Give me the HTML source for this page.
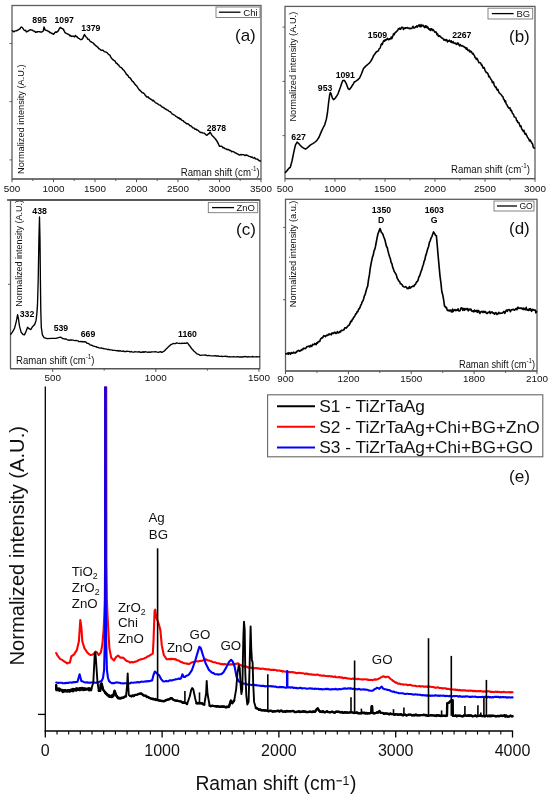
<!DOCTYPE html>
<html><head><meta charset="utf-8"><title>Raman spectra</title>
<style>html,body{margin:0;padding:0;background:#fff;}body{width:550px;height:800px;overflow:hidden;font-family:"Liberation Sans",sans-serif;}svg{display:block;will-change:transform;}</style>
</head><body>
<svg width="550" height="800" viewBox="0 0 550 800" font-family="Liberation Sans, sans-serif">
<defs><clipPath id="clipE"><rect x="40" y="386.4" width="500" height="350"/></clipPath></defs>
<rect x="12.0" y="5.5" width="249.0" height="173.5" fill="none" stroke="#5e5e5e" stroke-width="1.3"/>
<line x1="12.0" y1="179.0" x2="261.0" y2="179.0" stroke="#555" stroke-width="1.20" />
<line x1="12.0" y1="179.0" x2="12.0" y2="182.2" stroke="#555" stroke-width="1.00" />
<line x1="53.5" y1="179.0" x2="53.5" y2="182.2" stroke="#555" stroke-width="1.00" />
<line x1="95.0" y1="179.0" x2="95.0" y2="182.2" stroke="#555" stroke-width="1.00" />
<line x1="136.5" y1="179.0" x2="136.5" y2="182.2" stroke="#555" stroke-width="1.00" />
<line x1="178.0" y1="179.0" x2="178.0" y2="182.2" stroke="#555" stroke-width="1.00" />
<line x1="219.5" y1="179.0" x2="219.5" y2="182.2" stroke="#555" stroke-width="1.00" />
<line x1="261.0" y1="179.0" x2="261.0" y2="182.2" stroke="#555" stroke-width="1.00" />
<line x1="32.8" y1="179.0" x2="32.8" y2="181.0" stroke="#555" stroke-width="0.90" />
<line x1="74.2" y1="179.0" x2="74.2" y2="181.0" stroke="#555" stroke-width="0.90" />
<line x1="115.8" y1="179.0" x2="115.8" y2="181.0" stroke="#555" stroke-width="0.90" />
<line x1="157.2" y1="179.0" x2="157.2" y2="181.0" stroke="#555" stroke-width="0.90" />
<line x1="198.8" y1="179.0" x2="198.8" y2="181.0" stroke="#555" stroke-width="0.90" />
<line x1="240.2" y1="179.0" x2="240.2" y2="181.0" stroke="#555" stroke-width="0.90" />
<text x="12.0" y="192.4" font-size="9.90" text-anchor="middle" font-weight="normal" fill="#111" >500</text>
<text x="53.5" y="192.4" font-size="9.90" text-anchor="middle" font-weight="normal" fill="#111" >1000</text>
<text x="95.0" y="192.4" font-size="9.90" text-anchor="middle" font-weight="normal" fill="#111" >1500</text>
<text x="136.5" y="192.4" font-size="9.90" text-anchor="middle" font-weight="normal" fill="#111" >2000</text>
<text x="178.0" y="192.4" font-size="9.90" text-anchor="middle" font-weight="normal" fill="#111" >2500</text>
<text x="219.5" y="192.4" font-size="9.90" text-anchor="middle" font-weight="normal" fill="#111" >3000</text>
<text x="261.0" y="192.4" font-size="9.90" text-anchor="middle" font-weight="normal" fill="#111" >3500</text>
<line x1="9.5" y1="43.5" x2="12.0" y2="43.5" stroke="#555" stroke-width="0.90" />
<line x1="9.5" y1="101.6" x2="12.0" y2="101.6" stroke="#555" stroke-width="0.90" />
<line x1="9.5" y1="159.9" x2="12.0" y2="159.9" stroke="#555" stroke-width="0.90" />
<text x="0" y="0" font-size="9.20" text-anchor="middle" fill="#111" transform="translate(23.6,119.2) rotate(-90)" textLength="109.4" lengthAdjust="spacingAndGlyphs">Normalized intensity (A.U.)</text>
<text x="235.0" y="40.8" font-size="17.00" text-anchor="start" font-weight="normal" fill="#111" >(a)</text>
<rect x="216.0" y="7.0" width="44.0" height="10.5" fill="#fff" stroke="#777" stroke-width="0.9"/>
<line x1="219.0" y1="12.2" x2="240.5" y2="12.2" stroke="#000" stroke-width="1.30" />
<text x="243.2" y="15.7" font-size="9.70" text-anchor="start" font-weight="normal" fill="#111" >Chi</text>
<text x="180.8" y="176.0" font-size="10" fill="#111" textLength="78.9" lengthAdjust="spacingAndGlyphs">Raman shift (cm<tspan font-size="6.5" dy="-5">-1</tspan><tspan dy="5">)</tspan></text>
<polyline points="12.5,30.7 13.3,31.5 14.1,31.7 14.9,31.0 15.8,30.9 16.6,30.8 17.4,30.2 18.2,29.9 19.0,29.4 19.9,28.9 20.7,27.5 21.5,27.1 22.7,28.0 23.9,30.0 24.7,30.5 25.6,30.3 26.4,31.9 27.2,31.6 28.0,31.0 28.8,30.7 29.6,30.1 30.5,29.7 31.3,30.1 32.1,30.0 32.9,30.6 33.8,31.1 34.6,31.3 35.4,32.2 36.2,31.9 37.0,32.2 37.8,31.6 38.6,31.6 39.4,31.6 40.2,32.0 41.1,32.0 41.9,32.0 43.3,31.0 44.0,27.0 45.2,30.1 46.0,30.4 46.8,30.5 47.7,30.9 48.5,31.5 49.3,31.7 50.1,32.8 50.9,32.7 51.8,33.5 52.6,33.4 53.4,34.3 54.2,33.7 55.0,32.3 55.9,32.0 56.7,32.3 57.5,31.4 58.3,30.9 59.1,29.2 59.9,27.9 60.7,27.4 61.5,28.4 62.4,28.6 63.2,29.2 64.0,30.5 64.8,32.3 65.7,33.1 66.5,33.4 67.3,33.9 68.1,34.2 69.0,34.6 69.8,35.8 70.6,35.5 71.4,36.4 72.4,36.3 73.5,36.2 74.5,36.9 75.5,35.4 76.3,36.7 77.1,36.8 77.9,37.9 78.7,38.4 79.5,38.6 80.3,39.6 81.2,39.6 82.0,39.3 82.8,38.3 83.7,35.9 84.5,34.5 85.3,36.1 86.1,37.0 86.9,37.5 87.7,39.3 88.6,39.2 89.4,40.1 90.2,41.5 91.1,41.7 92.0,42.4 92.9,42.8 93.7,43.5 94.6,44.8 95.4,45.1 96.3,46.2 97.1,46.7 98.0,47.4 98.8,48.7 99.7,48.9 100.5,49.7 101.4,50.4 102.3,50.1 103.3,50.4 104.2,51.6 105.1,51.9 106.0,52.0 107.0,52.6 108.0,53.8 108.9,54.7 109.9,55.1 110.8,57.2 111.8,58.4 112.7,59.4 113.5,60.1 114.4,60.6 115.2,61.3 116.1,63.2 117.0,63.3 117.8,64.6 118.7,65.0 119.5,66.5 120.3,67.1 121.2,67.6 122.1,68.3 122.9,69.7 123.8,70.1 124.6,71.3 125.5,72.7 126.3,74.1 127.2,74.9 128.0,75.6 128.8,77.3 129.7,77.6 130.6,78.5 131.4,79.8 132.2,81.1 133.1,81.7 133.9,82.8 134.8,84.0 135.6,85.2 136.5,85.7 137.3,86.9 138.2,88.4 139.1,89.6 140.1,90.4 141.1,91.5 142.0,92.5 142.8,92.7 143.7,93.3 144.6,94.0 145.4,95.7 146.2,96.2 147.1,97.2 148.0,96.8 148.9,98.0 149.8,98.4 150.7,99.3 151.6,99.4 152.5,100.8 153.4,100.3 154.3,101.4 155.1,102.2 156.0,102.9 156.8,103.3 157.7,103.8 158.5,104.5 159.4,105.1 160.2,105.1 161.1,106.0 161.9,106.8 162.8,107.3 163.6,107.4 164.5,108.4 165.3,109.0 166.2,109.3 167.0,109.9 167.9,110.2 168.7,111.0 169.6,111.6 170.4,111.7 171.3,112.9 172.1,113.9 173.0,114.4 173.8,114.9 174.7,115.1 175.5,116.1 176.4,116.6 177.2,117.0 178.1,118.0 178.9,117.7 179.8,119.0 180.6,118.8 181.5,120.0 182.3,120.4 183.2,120.7 184.0,121.8 184.8,122.2 185.7,122.9 186.5,123.8 187.4,123.6 188.2,123.9 189.1,124.8 189.9,125.8 190.8,125.8 191.6,126.3 192.5,127.7 193.3,127.9 194.2,128.2 195.0,129.2 195.9,129.1 196.7,129.9 197.6,129.9 198.4,130.7 199.3,131.6 200.1,132.2 201.0,132.5 201.8,132.4 202.7,133.0 203.5,133.1 204.4,133.3 205.2,134.1 206.1,134.9 206.9,135.3 208.2,134.0 209.1,133.5 210.0,132.1 211.0,133.6 212.0,135.5 212.9,136.3 213.9,137.2 214.9,138.4 215.8,139.5 216.8,141.0 217.7,142.4 218.7,144.6 219.6,146.3 220.4,146.2 221.3,146.2 222.1,146.6 223.0,147.9 223.8,147.5 224.7,148.6 225.5,148.8 226.4,148.9 227.2,149.8 228.1,149.3 228.9,149.8 229.8,150.6 230.6,150.4 231.5,151.7 232.3,151.4 233.2,151.6 234.0,151.9 234.9,152.8 235.7,153.0 236.6,153.5 237.4,153.9 238.3,154.4 239.1,154.9 240.0,154.9 240.9,154.5 241.8,154.9 242.6,154.6 243.5,154.6 244.4,155.2 245.2,155.5 246.1,155.0 247.0,155.2 247.8,155.6 248.7,156.3 249.5,156.4 250.4,156.7 251.2,157.2 252.1,157.0 252.9,157.8 253.8,158.2 254.6,157.5 255.4,158.9 256.3,159.1 257.1,158.9 258.0,159.7 258.8,160.3 259.7,161.0 260.5,161.0" fill="none" stroke="#000" stroke-width="1.45" stroke-linejoin="round" stroke-linecap="round" />
<text x="39.6" y="22.8" font-size="8.70" text-anchor="middle" font-weight="bold" fill="#000" >895</text>
<text x="64.2" y="22.8" font-size="8.70" text-anchor="middle" font-weight="bold" fill="#000" >1097</text>
<text x="90.8" y="30.9" font-size="8.70" text-anchor="middle" font-weight="bold" fill="#000" >1379</text>
<text x="216.4" y="130.5" font-size="8.70" text-anchor="middle" font-weight="bold" fill="#000" >2878</text>
<rect x="285.0" y="6.4" width="250.0" height="172.2" fill="none" stroke="#5e5e5e" stroke-width="1.3"/>
<line x1="285.0" y1="178.6" x2="535.0" y2="178.6" stroke="#555" stroke-width="1.20" />
<line x1="285.0" y1="178.6" x2="285.0" y2="181.8" stroke="#555" stroke-width="1.00" />
<line x1="335.0" y1="178.6" x2="335.0" y2="181.8" stroke="#555" stroke-width="1.00" />
<line x1="385.0" y1="178.6" x2="385.0" y2="181.8" stroke="#555" stroke-width="1.00" />
<line x1="435.0" y1="178.6" x2="435.0" y2="181.8" stroke="#555" stroke-width="1.00" />
<line x1="485.0" y1="178.6" x2="485.0" y2="181.8" stroke="#555" stroke-width="1.00" />
<line x1="535.0" y1="178.6" x2="535.0" y2="181.8" stroke="#555" stroke-width="1.00" />
<line x1="310.0" y1="178.6" x2="310.0" y2="180.6" stroke="#555" stroke-width="0.90" />
<line x1="360.0" y1="178.6" x2="360.0" y2="180.6" stroke="#555" stroke-width="0.90" />
<line x1="410.0" y1="178.6" x2="410.0" y2="180.6" stroke="#555" stroke-width="0.90" />
<line x1="460.0" y1="178.6" x2="460.0" y2="180.6" stroke="#555" stroke-width="0.90" />
<line x1="510.0" y1="178.6" x2="510.0" y2="180.6" stroke="#555" stroke-width="0.90" />
<text x="285.0" y="192.2" font-size="9.90" text-anchor="middle" font-weight="normal" fill="#111" >500</text>
<text x="335.0" y="192.2" font-size="9.90" text-anchor="middle" font-weight="normal" fill="#111" >1000</text>
<text x="385.0" y="192.2" font-size="9.90" text-anchor="middle" font-weight="normal" fill="#111" >1500</text>
<text x="435.0" y="192.2" font-size="9.90" text-anchor="middle" font-weight="normal" fill="#111" >2000</text>
<text x="485.0" y="192.2" font-size="9.90" text-anchor="middle" font-weight="normal" fill="#111" >2500</text>
<text x="535.0" y="192.2" font-size="9.90" text-anchor="middle" font-weight="normal" fill="#111" >3000</text>
<line x1="282.5" y1="27.1" x2="285.0" y2="27.1" stroke="#555" stroke-width="0.90" />
<line x1="282.5" y1="81.4" x2="285.0" y2="81.4" stroke="#555" stroke-width="0.90" />
<line x1="282.5" y1="135.6" x2="285.0" y2="135.6" stroke="#555" stroke-width="0.90" />
<text x="0" y="0" font-size="9.20" text-anchor="middle" fill="#111" transform="translate(295.8,66.7) rotate(-90)" textLength="109.8" lengthAdjust="spacingAndGlyphs">Normalized intensity (A.U.)</text>
<text x="509.0" y="41.6" font-size="17.00" text-anchor="start" font-weight="normal" fill="#111" >(b)</text>
<rect x="488.0" y="8.2" width="44.7" height="10.8" fill="#fff" stroke="#777" stroke-width="0.9"/>
<line x1="491.8" y1="13.6" x2="513.6" y2="13.6" stroke="#000" stroke-width="1.30" />
<text x="516.4" y="17.0" font-size="9.40" text-anchor="start" font-weight="normal" fill="#111" >BG</text>
<text x="451.0" y="172.7" font-size="10" fill="#111" textLength="79.0" lengthAdjust="spacingAndGlyphs">Raman shift (cm<tspan font-size="6.5" dy="-5">-1</tspan><tspan dy="5">)</tspan></text>
<polyline points="285.5,172.4 286.8,171.0 288.1,169.2 289.2,168.0 290.3,167.3 292.0,161.0 293.7,152.6 295.4,145.1 297.1,142.1 298.8,143.6 299.9,144.9 301.0,146.1 302.1,147.1 303.3,147.9 304.4,148.5 305.5,149.0 306.6,148.3 307.8,147.4 308.9,146.4 310.0,145.4 311.4,144.4 312.8,143.6 313.9,142.9 315.1,142.0 316.2,141.1 317.6,139.4 319.0,137.3 320.4,133.9 321.9,130.4 323.3,127.5 324.7,124.8 326.4,119.1 327.5,112.5 328.6,102.6 329.7,94.6 330.3,92.6 331.0,93.5 332.3,97.8 333.5,99.7 334.5,98.9 335.5,97.8 336.8,95.9 338.0,93.8 339.2,90.6 340.5,87.1 341.6,83.5 342.8,80.6 344.4,80.4 346.3,83.7 348.2,88.8 349.5,89.5 351.4,87.1 352.4,85.2 353.5,83.7 354.5,81.7 355.6,81.4 356.6,80.7 357.7,79.9 359.6,78.0 361.5,73.7 362.5,71.1 363.5,68.5 364.8,67.1 366.0,65.8 367.2,65.0 368.5,63.8 369.8,62.6 371.1,60.7 372.4,58.5 373.6,55.6 374.9,54.0 376.2,52.0 378.0,51.0 378.6,50.1 379.2,48.7 379.8,48.3 380.4,47.3 381.0,44.9 381.7,43.6 382.4,44.4 383.1,41.8 383.8,40.5 384.5,41.2 385.1,39.8 385.7,40.5 386.3,39.4 386.9,39.7 387.5,38.3 388.1,39.3 388.8,39.8 389.4,38.7 390.0,39.1 390.6,38.8 391.2,37.1 391.8,38.6 392.4,37.2 393.0,35.4 393.6,33.7 394.3,34.8 394.9,32.8 395.5,32.3 396.2,32.0 396.9,30.9 397.6,30.7 398.3,28.7 399.0,29.0 399.6,28.1 400.3,29.3 400.9,29.1 401.5,27.2 402.2,27.3 402.8,27.5 403.5,29.4 404.1,28.0 404.7,28.5 405.4,27.7 406.0,28.2 406.6,27.8 407.3,27.6 407.9,28.1 408.5,28.0 409.2,28.7 409.8,28.1 410.4,28.6 411.1,28.3 411.7,28.5 412.3,27.6 413.0,26.3 413.6,27.9 414.2,28.0 414.8,27.8 415.5,26.8 416.1,27.0 416.7,25.7 417.3,27.1 417.9,26.3 418.5,25.5 419.1,24.8 419.8,26.6 420.4,26.8 421.0,24.5 421.6,26.4 422.3,25.7 422.9,25.2 423.5,25.7 424.2,27.1 424.8,27.6 425.5,25.7 426.1,27.3 426.7,26.1 427.4,28.0 428.0,27.2 428.6,28.9 429.2,29.6 429.9,28.7 430.5,30.4 431.1,29.0 431.7,28.8 432.4,30.5 433.0,29.5 433.6,30.2 434.3,31.3 435.0,32.4 435.6,31.8 436.3,32.1 437.0,34.7 437.6,33.9 438.3,36.1 439.0,36.5 439.6,35.7 440.2,36.3 440.8,36.9 441.4,37.7 442.1,38.0 442.7,38.4 443.3,39.0 443.9,40.2 444.5,39.6 445.1,39.6 445.7,40.6 446.3,39.6 446.9,40.0 447.5,41.9 448.1,41.0 448.8,41.2 449.4,40.1 450.0,41.3 450.6,42.0 451.2,40.8 451.8,42.5 452.5,42.7 453.1,41.5 453.8,43.1 454.4,43.0 455.1,43.7 455.7,43.1 456.4,44.2 457.0,44.5 457.7,42.9 458.3,43.2 459.0,44.9 459.6,46.0 460.2,44.5 460.8,45.3 461.4,46.0 462.1,45.6 462.7,46.0 463.3,46.2 463.9,46.7 464.5,47.5 465.1,47.3 465.7,47.9 466.3,49.3 466.9,47.9 467.5,49.7 468.1,50.6 468.8,50.0 469.4,50.2 470.0,52.1 470.6,51.1 471.2,51.5 471.8,52.5 472.5,54.0 473.1,53.4 473.8,54.7 474.4,55.6 475.1,57.7 475.7,57.5 476.4,59.4 477.0,58.5 477.7,59.7 478.3,61.3 479.0,62.8 479.6,62.5 480.2,62.7 480.8,63.3 481.4,65.1 482.1,65.0 482.7,67.4 483.3,68.2 483.9,67.4 484.5,68.4 485.1,70.8 485.7,71.4 486.3,72.8 486.9,72.6 487.6,73.1 488.2,74.5 488.8,76.7 489.4,76.4 490.0,77.6 490.6,78.7 491.2,79.6 491.8,80.5 492.4,82.7 493.0,81.7 493.6,82.3 494.3,85.5 494.9,86.3 495.5,87.5 496.1,87.0 496.7,89.2 497.3,90.1 497.9,89.3 498.6,91.6 499.2,92.8 499.8,93.4 500.5,94.0 501.1,94.5 501.7,95.6 502.3,96.3 503.0,96.9 503.6,99.2 504.2,99.5 504.9,101.8 505.5,100.9 506.2,104.0 506.8,104.5 507.4,106.1 508.1,107.0 508.7,108.0 509.4,108.2 510.0,107.8 510.6,110.6 511.2,110.1 511.8,111.4 512.4,113.3 513.0,113.9 513.6,114.6 514.2,116.9 514.8,117.1 515.4,117.4 516.0,118.1 516.6,120.6 517.2,120.6 517.8,122.4 518.4,122.3 519.0,122.8 519.6,124.7 520.2,126.4 520.9,125.8 521.5,128.3 522.1,129.6 522.7,130.3 523.3,131.4 523.9,130.3 524.5,132.8 525.2,134.4 525.8,133.4 526.4,134.9 527.0,135.9 527.6,137.5 528.3,138.2 528.9,139.3 529.5,141.0 530.1,140.0 530.8,141.1 531.4,142.3 532.0,143.2 532.6,144.0 533.3,147.3 533.9,147.9 534.5,148.0" fill="none" stroke="#000" stroke-width="1.55" stroke-linejoin="round" stroke-linecap="round" />
<text x="298.6" y="139.8" font-size="8.70" text-anchor="middle" font-weight="bold" fill="#000" >627</text>
<text x="325.1" y="90.6" font-size="8.70" text-anchor="middle" font-weight="bold" fill="#000" >953</text>
<text x="345.3" y="77.6" font-size="8.70" text-anchor="middle" font-weight="bold" fill="#000" >1091</text>
<text x="377.5" y="38.2" font-size="8.70" text-anchor="middle" font-weight="bold" fill="#000" >1509</text>
<text x="461.8" y="38.2" font-size="8.70" text-anchor="middle" font-weight="bold" fill="#000" >2267</text>
<rect x="10.5" y="200.0" width="249.3" height="168.7" fill="none" stroke="#5e5e5e" stroke-width="1.3"/>
<line x1="10.5" y1="368.7" x2="259.8" y2="368.7" stroke="#555" stroke-width="1.20" />
<line x1="52.7" y1="368.7" x2="52.7" y2="371.9" stroke="#555" stroke-width="1.00" />
<line x1="155.8" y1="368.7" x2="155.8" y2="371.9" stroke="#555" stroke-width="1.00" />
<line x1="258.9" y1="368.7" x2="258.9" y2="371.9" stroke="#555" stroke-width="1.00" />
<line x1="104.2" y1="368.7" x2="104.2" y2="370.7" stroke="#555" stroke-width="0.90" />
<line x1="207.4" y1="368.7" x2="207.4" y2="370.7" stroke="#555" stroke-width="0.90" />
<text x="52.7" y="381.4" font-size="9.90" text-anchor="middle" font-weight="normal" fill="#111" >500</text>
<text x="155.8" y="381.4" font-size="9.90" text-anchor="middle" font-weight="normal" fill="#111" >1000</text>
<text x="258.9" y="381.4" font-size="9.90" text-anchor="middle" font-weight="normal" fill="#111" >1500</text>
<line x1="8.0" y1="284.3" x2="10.5" y2="284.3" stroke="#555" stroke-width="0.90" />
<text x="0" y="0" font-size="9.00" text-anchor="middle" fill="#111" transform="translate(22.0,253.4) rotate(-90)" textLength="106.9" lengthAdjust="spacingAndGlyphs">Normalized intensity (A.U.)</text>
<text x="236.0" y="234.6" font-size="17.00" text-anchor="start" font-weight="normal" fill="#111" >(c)</text>
<rect x="208.3" y="202.4" width="49.4" height="10.3" fill="#fff" stroke="#777" stroke-width="0.9"/>
<line x1="212.0" y1="207.6" x2="234.0" y2="207.6" stroke="#000" stroke-width="1.30" />
<text x="236.5" y="211.0" font-size="9.50" text-anchor="start" font-weight="normal" fill="#111" >ZnO</text>
<text x="16.0" y="363.6" font-size="10" fill="#111" textLength="78.5" lengthAdjust="spacingAndGlyphs">Raman shift (cm<tspan font-size="6.5" dy="-5">-1</tspan><tspan dy="5">)</tspan></text>
<line x1="7.0" y1="200.0" x2="259.8" y2="200.0" stroke="#444" stroke-width="1.40" />
<polyline points="10.7,334.4 12.4,332.2 14.5,328.4 16.2,321.8 17.6,314.7 18.4,318.5 19.5,326.2 21.1,332.2 23.3,334.7 24.4,334.9 26.0,331.6 27.6,327.3 29.3,328.9 30.9,329.5 32.5,326.7 34.7,324.5 36.1,320.2 36.9,313.1 37.5,304.4 38.2,280.0 38.9,240.0 39.5,216.9 40.0,240.0 40.4,280.0 40.8,310.9 41.3,327.3 42.4,334.9 44.0,337.6 47.3,338.7 51.6,338.4 56.0,338.4 59.3,337.3 60.4,337.1 61.5,337.8 62.5,338.5 63.6,338.7 64.7,339.1 65.8,338.8 66.9,339.5 68.0,340.1 69.0,340.0 70.0,340.3 71.0,339.8 72.0,340.2 73.0,340.1 74.0,340.4 75.0,340.6 76.0,340.4 77.0,340.7 78.0,340.9 79.0,341.6 80.0,341.7 81.0,341.4 82.0,341.9 83.0,341.5 84.0,342.0 85.0,341.7 86.0,342.2 87.0,343.3 88.0,343.3 89.0,343.8 90.0,344.8 91.0,345.2 92.0,345.2 93.0,346.0 94.0,346.1 95.0,346.6 96.1,346.6 97.1,347.4 98.2,347.5 99.2,347.9 100.3,348.2 101.3,348.0 102.4,348.3 103.4,348.5 104.5,348.8 105.5,348.8 106.6,349.2 107.7,349.5 108.7,349.3 109.8,349.9 110.8,349.8 111.8,349.9 112.9,350.4 114.0,350.3 115.0,350.4 116.0,350.6 117.0,350.8 118.0,350.5 119.0,351.2 120.0,350.6 121.0,351.2 122.0,351.4 123.0,350.9 124.0,351.5 125.0,351.3 126.0,351.6 127.0,351.2 128.0,351.3 129.0,351.4 130.0,352.0 131.0,351.5 132.0,351.9 133.0,352.1 134.0,352.1 135.0,351.7 136.0,351.8 137.0,351.9 138.0,352.1 139.0,351.7 140.0,352.2 141.0,352.2 142.0,352.3 143.0,351.7 144.0,352.3 145.0,351.7 146.0,351.9 147.0,352.1 148.0,352.3 149.0,351.9 150.0,352.3 151.1,352.0 152.1,351.9 153.2,351.9 154.2,351.8 155.3,351.7 156.3,351.8 157.4,352.1 158.5,352.3 159.5,351.8 160.6,351.7 161.6,352.3 162.7,352.0 164.5,350.9 165.7,349.5 166.8,348.4 168.0,347.2 169.0,346.2 170.0,345.4 171.0,344.4 172.0,344.3 173.1,343.5 174.3,343.6 175.4,343.6 176.6,342.9 177.7,343.2 178.8,343.4 179.8,343.3 180.9,343.6 182.0,343.2 183.1,343.4 184.3,343.1 185.4,343.4 186.6,343.0 187.7,343.0 188.8,344.8 190.0,346.2 191.0,347.8 192.0,349.0 193.0,350.0 194.0,351.2 195.0,352.0 196.0,352.9 197.0,353.9 198.0,354.1 199.0,354.6 200.0,355.3 201.0,355.4 202.0,355.2 203.0,355.1 204.0,355.1 205.0,355.0 206.0,355.1 207.0,355.5 208.0,355.7 209.0,355.4 210.0,355.7 211.0,355.8 212.1,355.8 213.1,355.8 214.1,355.9 215.1,355.7 216.2,356.0 217.2,355.8 218.2,356.0 219.2,356.3 220.3,356.3 221.3,356.1 222.3,356.6 223.3,356.4 224.4,356.4 225.4,356.1 226.4,356.5 227.4,356.4 228.5,356.8 229.5,356.7 230.5,356.9 231.5,356.8 232.5,356.9 233.5,356.6 234.5,356.8 235.5,356.9 236.5,356.9 237.5,356.6 238.5,356.9 239.5,357.0 240.5,356.8 241.5,357.0 242.5,357.0 243.5,356.7 244.5,356.7 245.5,356.5 246.5,356.9 247.5,357.0 248.5,356.7 249.5,356.8 250.5,356.9 251.5,356.9 252.5,356.5 253.5,356.9 254.5,356.8 255.5,356.8 256.5,356.6 257.5,356.8 258.5,356.9 259.5,356.7" fill="none" stroke="#000" stroke-width="1.35" stroke-linejoin="round" stroke-linecap="round" />
<text x="39.6" y="213.6" font-size="8.70" text-anchor="middle" font-weight="bold" fill="#000" >438</text>
<text x="27.0" y="316.9" font-size="8.70" text-anchor="middle" font-weight="bold" fill="#000" >332</text>
<text x="60.9" y="330.5" font-size="8.70" text-anchor="middle" font-weight="bold" fill="#000" >539</text>
<text x="88.0" y="337.0" font-size="8.70" text-anchor="middle" font-weight="bold" fill="#000" >669</text>
<text x="187.5" y="337.0" font-size="8.70" text-anchor="middle" font-weight="bold" fill="#000" >1160</text>
<rect x="285.5" y="199.3" width="251.5" height="171.7" fill="none" stroke="#5e5e5e" stroke-width="1.3"/>
<line x1="285.5" y1="371.0" x2="537.0" y2="371.0" stroke="#555" stroke-width="1.20" />
<line x1="285.5" y1="371.0" x2="285.5" y2="374.2" stroke="#555" stroke-width="1.00" />
<line x1="348.4" y1="371.0" x2="348.4" y2="374.2" stroke="#555" stroke-width="1.00" />
<line x1="411.2" y1="371.0" x2="411.2" y2="374.2" stroke="#555" stroke-width="1.00" />
<line x1="474.1" y1="371.0" x2="474.1" y2="374.2" stroke="#555" stroke-width="1.00" />
<line x1="537.0" y1="371.0" x2="537.0" y2="374.2" stroke="#555" stroke-width="1.00" />
<line x1="316.9" y1="371.0" x2="316.9" y2="373.0" stroke="#555" stroke-width="0.90" />
<line x1="379.8" y1="371.0" x2="379.8" y2="373.0" stroke="#555" stroke-width="0.90" />
<line x1="442.7" y1="371.0" x2="442.7" y2="373.0" stroke="#555" stroke-width="0.90" />
<line x1="505.6" y1="371.0" x2="505.6" y2="373.0" stroke="#555" stroke-width="0.90" />
<text x="285.5" y="381.6" font-size="9.90" text-anchor="middle" font-weight="normal" fill="#111" >900</text>
<text x="348.4" y="381.6" font-size="9.90" text-anchor="middle" font-weight="normal" fill="#111" >1200</text>
<text x="411.2" y="381.6" font-size="9.90" text-anchor="middle" font-weight="normal" fill="#111" >1500</text>
<text x="474.1" y="381.6" font-size="9.90" text-anchor="middle" font-weight="normal" fill="#111" >1800</text>
<text x="537.0" y="381.6" font-size="9.90" text-anchor="middle" font-weight="normal" fill="#111" >2100</text>
<line x1="283.0" y1="227.4" x2="285.5" y2="227.4" stroke="#555" stroke-width="0.90" />
<line x1="283.0" y1="299.7" x2="285.5" y2="299.7" stroke="#555" stroke-width="0.90" />
<text x="0" y="0" font-size="9.00" text-anchor="middle" fill="#111" transform="translate(295.6,253.9) rotate(-90)" textLength="106.6" lengthAdjust="spacingAndGlyphs">Normalized intensity (a.u.)</text>
<text x="509.0" y="233.6" font-size="17.00" text-anchor="start" font-weight="normal" fill="#111" >(d)</text>
<rect x="494.0" y="201.0" width="40.0" height="10.0" fill="#fff" stroke="#777" stroke-width="0.9"/>
<line x1="497.0" y1="206.0" x2="517.0" y2="206.0" stroke="#000" stroke-width="1.30" />
<text x="519.4" y="209.4" font-size="8.60" text-anchor="start" font-weight="normal" fill="#111" >GO</text>
<text x="459.0" y="368.0" font-size="10" fill="#111" textLength="76.0" lengthAdjust="spacingAndGlyphs">Raman shift (cm<tspan font-size="6.5" dy="-5">-1</tspan><tspan dy="5">)</tspan></text>
<polyline points="286.0,353.9 286.8,353.7 287.5,353.1 288.2,354.3 289.0,352.7 289.8,353.5 290.5,354.1 291.2,352.5 292.0,353.2 292.8,353.2 293.5,352.1 294.2,352.6 295.0,353.1 295.7,352.3 296.4,352.5 297.1,351.1 297.8,351.0 298.5,350.4 299.2,350.8 299.9,351.2 300.6,350.3 301.4,350.3 302.1,349.3 302.8,349.7 303.5,348.2 304.2,348.2 304.9,348.6 305.6,348.4 306.3,347.5 307.0,346.6 307.7,346.6 308.4,346.2 309.1,346.1 309.8,346.8 310.5,345.4 311.2,346.4 311.9,346.1 312.6,344.4 313.3,344.7 314.0,344.6 314.7,343.5 315.4,344.0 316.1,344.6 316.8,342.9 317.5,343.1 318.2,341.5 319.0,341.6 319.7,341.4 320.4,339.5 321.1,338.4 321.8,337.8 322.6,337.9 323.3,336.3 324.0,335.7 324.7,336.1 325.5,336.7 326.2,335.5 326.9,335.2 327.7,335.4 328.4,334.2 329.1,334.8 329.9,333.8 330.6,334.4 331.3,334.8 332.1,332.9 332.8,333.5 333.5,333.4 334.3,332.3 335.0,332.3 335.8,333.5 336.6,333.3 337.4,331.6 338.1,332.6 338.9,332.9 339.7,331.5 340.5,332.0 341.2,330.4 341.9,330.5 342.7,330.5 343.4,329.8 344.1,329.6 344.8,327.8 345.5,327.7 346.3,328.1 347.0,327.1 347.7,326.3 348.5,325.2 349.2,325.2 350.0,323.4 350.7,321.3 351.5,321.7 352.2,319.7 353.0,318.9 353.7,317.4 354.4,316.6 355.1,315.3 355.8,313.8 356.5,313.6 357.2,311.5 357.9,311.6 358.6,309.1 359.3,308.9 360.0,307.4 360.7,305.3 361.5,304.1 362.2,301.7 362.9,301.0 363.6,298.9 364.4,295.8 365.2,294.4 366.1,290.7 366.9,288.0 367.7,286.1 368.5,279.8 369.4,274.9 370.2,268.5 371.0,264.2 371.8,260.1 372.5,256.8 373.2,255.4 374.0,250.9 374.8,249.3 375.5,246.4 376.3,242.0 377.2,237.3 378.0,233.7 379.0,231.1 380.0,228.5 380.7,230.4 381.4,232.6 382.2,233.1 382.9,234.2 383.6,236.5 384.3,238.2 385.1,240.5 385.8,243.8 386.5,246.5 387.3,247.8 388.0,250.9 388.8,254.0 389.6,256.8 390.4,258.8 391.1,262.4 391.9,263.7 392.7,267.4 393.5,269.3 394.2,271.4 395.0,272.6 395.7,273.7 396.5,275.5 397.2,278.2 398.0,279.4 398.8,281.3 399.6,281.4 400.4,283.7 401.1,283.8 401.9,284.5 402.7,285.8 403.5,286.6 404.2,287.0 405.0,286.9 405.7,286.7 406.5,287.5 407.2,288.6 408.0,288.1 408.7,288.5 409.4,286.6 410.2,288.1 410.9,287.6 411.6,286.7 412.3,286.4 413.1,286.1 413.8,286.5 414.5,284.7 415.2,284.7 415.9,283.4 416.6,281.8 417.3,281.5 418.0,280.4 418.8,277.1 419.6,276.0 420.4,273.4 421.1,271.3 421.9,269.4 422.7,266.2 423.4,264.5 424.1,261.4 424.9,259.7 425.6,255.8 426.3,254.2 427.0,251.4 427.8,248.6 428.6,246.5 429.4,242.4 430.2,240.8 431.0,238.2 431.9,236.6 432.7,234.3 433.6,231.9 434.5,233.4 435.5,235.4 436.4,235.8 437.2,244.7 438.0,254.2 439.0,265.2 440.0,276.1 440.9,282.6 441.8,291.5 442.7,294.7 443.6,299.5 444.5,306.0 445.1,306.5 445.8,307.6 446.4,307.3 447.1,309.7 447.7,310.5 448.4,310.7 449.0,310.0 449.6,311.0 450.2,310.4 450.8,310.1 451.4,311.9 452.0,312.0 452.6,309.2 453.2,311.4 453.8,310.6 454.4,309.9 455.0,309.6 455.6,310.6 456.2,309.9 456.8,310.5 457.4,310.3 458.0,308.8 458.6,310.5 459.2,311.0 459.8,310.9 460.4,309.8 461.0,308.1 461.6,307.9 462.2,308.2 462.8,310.4 463.4,308.5 464.0,308.6 464.6,310.2 465.2,308.7 465.8,309.5 466.5,309.3 467.1,308.4 467.7,309.9 468.3,310.8 468.9,309.0 469.5,309.3 470.2,309.9 470.8,309.0 471.4,310.4 472.0,311.4 472.6,311.1 473.2,310.8 473.8,311.8 474.5,310.0 475.1,311.3 475.7,310.8 476.3,311.6 476.9,310.3 477.5,312.3 478.2,310.5 478.8,310.8 479.4,312.7 480.0,313.3 480.6,311.9 481.2,311.9 481.8,311.4 482.4,311.6 483.0,312.6 483.6,311.4 484.2,311.3 484.8,312.3 485.5,311.5 486.1,312.9 486.7,313.4 487.3,313.4 487.9,312.6 488.5,312.3 489.1,312.5 489.7,311.4 490.3,313.4 490.9,312.4 491.5,312.4 492.1,311.8 492.7,312.9 493.3,313.3 493.9,312.8 494.5,314.2 495.2,313.7 495.8,312.5 496.4,313.4 497.0,314.5 497.6,313.5 498.2,313.7 498.8,312.3 499.4,313.5 500.0,313.5 500.6,313.1 501.2,313.0 501.8,313.2 502.5,312.9 503.1,312.6 503.7,311.5 504.3,312.0 504.9,313.3 505.5,311.6 506.2,310.3 506.8,310.0 507.4,311.3 508.0,309.7 508.6,309.7 509.2,309.6 509.8,310.4 510.4,311.7 511.0,310.1 511.6,309.9 512.2,309.6 512.8,309.6 513.4,309.3 514.0,309.9 514.6,310.2 515.2,309.5 515.8,308.6 516.4,309.0 517.0,309.6 517.6,307.3 518.2,307.4 518.8,308.3 519.4,308.3 520.0,308.0 520.6,308.0 521.2,308.7 521.8,307.9 522.5,308.9 523.1,309.4 523.7,308.1 524.3,309.4 524.9,309.1 525.5,309.7 526.2,307.4 526.8,309.9 527.4,309.6 528.0,310.3 528.6,310.5 529.2,308.8 529.8,310.0 530.4,308.7 531.0,310.2 531.6,311.3 532.2,309.4 532.9,310.1 533.5,309.5 534.1,310.0 534.7,310.2 535.3,310.1 535.9,312.8 536.5,311.6" fill="none" stroke="#000" stroke-width="1.65" stroke-linejoin="round" stroke-linecap="round" />
<text x="381.4" y="213.0" font-size="8.70" text-anchor="middle" font-weight="bold" fill="#000" >1350</text>
<text x="434.3" y="213.0" font-size="8.70" text-anchor="middle" font-weight="bold" fill="#000" >1603</text>
<text x="381.1" y="223.3" font-size="8.70" text-anchor="middle" font-weight="bold" fill="#000" >D</text>
<text x="434.2" y="223.3" font-size="8.70" text-anchor="middle" font-weight="bold" fill="#000" >G</text>
<polyline points="56.2,653.0 57.6,655.7 60.3,659.1 61.5,659.6 62.6,660.2 63.8,661.2 64.9,661.9 66.1,662.5 67.2,663.5 68.6,662.7 69.9,662.6 71.3,656.4 72.7,655.3 74.1,654.3 76.8,650.2 78.9,641.3 80.3,620.0 81.4,627.5 82.3,641.3 84.4,648.1 87.1,652.3 88.3,653.5 89.4,654.3 90.6,655.0 91.9,654.8 93.3,654.3 95.4,651.6 96.8,652.3 98.8,655.0 100.9,652.3 102.3,645.0 103.6,630.0 104.3,615.0 104.8,600.0 105.1,560.0 105.2,380.0 106.2,380.0 106.4,560.0 106.9,600.0 107.5,615.0 108.3,630.0 109.4,648.1 111.2,657.8 114.0,660.5 116.0,657.1 118.1,655.5 120.5,657.8 121.9,657.6 123.3,657.8 126.0,660.5 127.0,661.1 128.1,661.4 129.1,661.8 130.1,662.6 131.2,662.1 132.2,662.1 133.2,662.4 134.3,661.9 135.4,661.7 136.5,661.3 137.6,660.9 138.7,660.0 139.8,659.8 140.9,659.3 142.0,659.1 143.1,658.8 144.2,658.4 145.3,657.8 146.3,657.5 147.4,656.5 148.4,656.3 149.4,655.7 151.5,654.3 152.8,653.6 153.5,641.3 154.6,611.0 155.2,609.6 156.3,617.9 157.6,620.6 159.0,624.8 160.4,630.3 161.8,645.4 163.8,655.0 166.6,659.1 167.7,659.2 168.9,659.1 170.0,659.1 171.1,658.9 172.2,659.1 173.3,658.8 174.4,659.4 175.5,659.1 176.5,659.9 177.6,660.2 178.6,660.5 179.6,661.2 180.7,661.9 181.8,662.1 182.8,662.7 183.9,663.1 185.0,663.3 186.0,663.5 187.1,663.6 188.1,663.9 189.1,664.0 190.2,663.4 191.2,662.7 192.2,662.3 193.3,661.9 194.4,662.0 195.5,661.3 196.6,661.2 197.7,661.4 198.8,661.2 199.8,660.9 200.9,660.9 201.9,660.7 202.9,660.5 204.2,659.7 205.6,659.1 207.0,660.1 208.4,660.5 209.4,660.6 210.4,661.1 211.5,661.3 212.5,661.9 213.6,662.3 214.7,662.3 215.8,662.6 216.9,663.2 218.0,663.3 219.1,663.4 220.2,663.8 221.3,664.2 222.4,663.9 223.5,664.4 224.6,664.1 225.7,664.3 226.8,664.7 227.9,664.6 229.0,664.6 230.0,664.4 231.1,664.4 232.1,664.3 233.1,664.5 234.1,664.2 235.1,663.7 236.1,663.9 237.1,663.7 238.1,663.2 239.4,664.5 240.8,665.1 242.1,665.7 243.4,666.4 244.7,666.5 245.8,666.4 246.9,666.8 248.0,667.5 249.1,667.6 250.2,667.5 251.3,667.8 252.3,668.2 253.3,668.1 254.3,668.3 255.3,668.1 256.3,668.1 257.3,668.4 258.4,668.2 259.4,668.5 260.4,669.0 261.4,668.7 262.4,668.6 263.4,668.7 264.4,669.1 265.4,669.0 266.4,669.5 267.4,669.3 268.4,669.4 269.4,669.3 270.4,670.0 271.4,669.8 272.4,669.9 273.4,669.9 274.5,669.9 275.5,670.0 276.5,670.2 277.5,670.7 278.5,670.5 279.5,670.5 280.6,671.0 281.6,670.9 282.6,671.6 283.6,671.1 284.6,671.5 285.7,671.8 286.7,671.7 287.7,671.9 288.7,672.3 289.8,672.1 290.8,672.0 291.8,672.3 292.8,672.1 293.9,672.5 294.9,672.5 295.9,673.0 296.9,673.1 297.9,673.0 299.0,672.7 300.0,673.0 301.0,673.1 302.1,673.2 303.1,673.3 304.1,673.6 305.1,674.0 306.2,673.5 307.2,673.6 308.2,674.3 309.2,674.1 310.2,674.5 311.3,674.2 312.3,674.7 313.3,674.6 314.4,674.8 315.4,674.9 316.4,674.8 317.4,674.6 318.4,674.8 319.5,675.4 320.5,675.2 321.5,675.6 322.6,675.7 323.6,675.4 324.6,675.8 325.6,676.0 326.7,676.0 327.7,676.2 328.7,676.1 329.7,676.3 330.8,676.4 331.8,676.3 332.8,676.8 333.8,677.0 334.9,676.4 335.9,677.2 336.9,677.3 337.9,677.2 339.0,676.9 340.0,677.3 341.0,677.7 342.1,677.3 343.1,678.1 344.1,678.0 345.1,677.7 346.1,678.0 347.2,678.4 348.2,678.5 349.2,678.6 350.2,678.8 351.3,679.0 352.3,678.6 353.3,678.5 354.3,679.2 355.4,678.6 356.4,679.0 357.4,679.3 358.4,678.8 359.4,679.3 360.4,679.3 361.5,679.5 362.5,679.3 363.5,679.5 364.5,679.3 365.5,679.2 366.6,679.6 367.6,679.5 368.6,680.0 369.6,680.0 370.6,679.9 371.7,680.0 372.7,680.1 373.9,679.6 375.1,679.4 376.4,679.6 377.6,679.3 378.7,678.6 379.8,678.2 380.9,677.3 382.1,676.9 383.4,676.3 385.8,677.3 387.1,676.8 388.3,676.8 390.7,679.0 391.9,679.8 393.1,681.0 394.4,681.7 395.6,682.6 396.6,682.6 397.6,683.5 398.6,683.8 399.6,683.6 400.6,684.2 401.6,684.3 402.6,684.3 403.6,684.7 404.6,684.5 405.7,684.5 406.7,684.8 407.7,685.2 408.7,685.0 409.8,684.8 410.9,685.0 412.0,685.5 413.1,685.8 414.2,685.7 415.3,685.8 416.4,686.2 417.5,686.3 418.6,686.2 419.6,686.0 420.7,686.6 421.7,686.2 422.7,686.3 423.7,686.7 424.8,686.5 425.8,686.8 426.8,686.4 427.8,687.0 428.9,686.5 429.9,686.8 430.9,686.7 432.0,687.0 433.0,687.0 434.1,687.3 435.1,687.7 436.2,687.7 437.2,687.3 438.3,687.6 439.3,687.9 440.4,688.0 441.4,688.1 442.5,688.4 443.6,688.3 444.7,688.2 445.8,688.4 446.8,689.0 447.9,688.7 449.0,689.1 450.1,689.4 451.2,689.2 452.2,689.4 453.3,689.5 454.3,689.6 455.4,689.5 456.4,690.0 457.5,689.8 458.5,690.2 459.6,689.9 460.6,690.4 461.7,690.4 462.8,690.4 463.8,690.4 464.8,690.2 465.9,690.6 466.9,690.8 467.9,690.6 469.0,690.9 470.0,690.5 471.0,690.6 472.1,690.7 473.1,691.2 474.1,690.8 475.1,691.3 476.1,691.0 477.2,691.2 478.2,691.1 479.2,691.3 480.2,691.0 481.3,691.3 482.3,691.4 483.3,691.7 484.3,691.2 485.4,691.6 486.4,691.4 487.4,691.4 488.4,691.3 489.4,691.3 490.5,692.0 491.5,691.9 492.5,691.9 493.5,692.0 494.5,692.1 495.5,691.6 496.6,691.9 497.6,691.9 498.6,691.9 499.6,692.0 500.6,692.2 501.6,692.1 502.6,692.3 503.6,691.7 504.6,692.1 505.6,692.2 506.6,692.2 507.6,692.2 508.6,692.3 509.6,692.0 510.6,692.5 511.6,692.1 512.6,692.2" fill="none" stroke="#ff0000" stroke-width="2.10" stroke-linejoin="round" stroke-linecap="round" clip-path="url(#clipE)"/>
<polyline points="56.2,682.5 57.3,682.8 58.4,682.9 59.5,682.8 60.5,682.7 61.6,682.7 62.7,683.2 63.8,683.2 64.9,683.1 66.1,683.1 67.2,682.8 68.3,682.9 69.5,682.5 70.6,682.5 71.8,682.6 72.9,682.4 74.0,682.1 75.2,682.1 76.3,682.0 77.5,681.8 79.6,674.3 81.4,681.2 82.5,681.3 83.6,681.9 84.7,682.4 85.8,682.5 86.9,682.3 88.0,682.7 89.1,682.6 90.2,682.7 91.3,682.5 92.4,682.4 93.6,682.2 94.7,682.7 95.8,682.7 97.0,682.5 98.1,682.5 99.3,681.8 100.4,681.4 101.6,681.2 103.0,678.0 104.1,670.0 104.8,641.3 105.1,600.0 105.2,380.0 105.7,380.0 105.8,600.0 106.2,641.3 106.9,670.0 108.0,678.0 109.1,681.2 110.5,682.3 111.9,683.2 113.0,682.9 114.1,683.2 115.2,682.8 116.3,682.4 117.4,682.5 118.5,682.8 119.7,682.8 120.8,683.3 121.9,683.2 123.1,683.5 124.2,683.2 125.4,683.3 126.5,683.3 127.7,683.4 128.8,683.2 129.9,683.4 131.1,682.6 132.2,682.8 133.3,682.8 134.5,682.5 135.6,682.5 136.8,682.4 137.9,682.0 139.1,682.4 140.2,682.1 141.3,681.6 142.5,681.8 143.7,681.8 144.8,681.5 145.9,681.3 147.1,681.4 148.2,681.0 149.4,681.2 150.8,680.6 152.1,680.5 153.5,675.0 154.9,671.5 157.0,673.6 159.0,675.0 161.1,679.1 163.1,681.2 164.2,681.5 165.2,681.3 166.2,680.9 167.3,681.2 168.4,681.2 169.6,680.4 170.7,680.4 171.8,680.5 173.0,680.1 174.1,679.8 175.2,679.4 176.4,679.2 177.6,679.0 178.7,678.6 179.8,679.0 181.0,678.4 182.4,674.3 183.8,677.0 185.0,677.0 186.0,676.0 187.1,675.6 188.1,675.1 189.1,674.3 191.9,670.2 195.3,660.5 198.1,650.9 199.4,646.8 200.8,648.1 202.9,655.0 205.6,663.3 209.1,670.2 210.2,671.0 211.4,672.3 212.5,672.9 213.5,673.1 214.6,673.9 215.6,674.2 216.6,674.3 217.7,674.4 218.7,674.6 219.8,674.3 220.8,674.3 222.2,673.5 223.5,672.2 226.3,667.4 229.0,661.9 231.1,659.8 232.5,661.2 234.5,666.0 236.6,677.0 238.6,681.2 239.7,681.9 240.7,682.2 241.8,682.7 242.8,683.2 243.9,683.6 245.0,683.7 246.1,683.8 247.2,684.5 248.3,684.6 249.4,684.6 250.5,684.8 251.7,685.1 252.8,684.8 253.9,684.8 255.0,685.3 256.0,685.1 257.1,685.5 258.1,685.5 259.2,685.5 260.2,685.7 261.3,686.1 262.3,685.8 263.4,685.9 264.4,686.1 265.4,686.4 266.4,686.3 267.4,686.1 268.4,686.3 269.4,686.3 270.4,686.1 271.4,686.4 272.4,686.4 273.5,686.4 274.5,686.8 275.6,686.6 276.6,686.9 277.6,687.2 278.7,687.2 279.7,686.9 280.8,687.1 281.8,687.0 282.8,687.1 283.9,687.3 284.9,687.6 286.0,687.7 287.0,687.5 287.0,671.1 287.4,671.1 287.4,687.5 288.4,687.4 289.5,687.3 290.5,687.6 291.6,687.4 292.6,687.4 293.7,688.0 294.7,687.6 295.8,688.1 296.8,687.9 297.8,688.3 298.9,688.3 299.9,687.8 301.0,687.9 302.0,688.5 303.1,688.3 304.1,688.3 305.1,688.3 306.2,688.6 307.2,688.7 308.2,688.5 309.2,688.5 310.2,688.3 311.3,688.6 312.3,688.5 313.3,688.8 314.4,688.9 315.4,688.6 316.4,689.0 317.4,688.7 318.4,688.7 319.5,689.2 320.5,689.1 321.5,689.1 322.6,689.4 323.6,689.2 324.6,689.2 325.6,688.8 326.7,689.3 327.7,688.8 328.7,689.2 329.7,689.4 330.8,689.4 331.8,689.4 332.8,689.1 333.8,689.2 334.9,689.3 335.9,688.8 336.9,689.4 337.9,689.4 339.0,689.1 340.0,689.1 341.0,689.2 342.1,688.9 343.1,688.6 344.1,688.8 345.1,688.3 346.1,688.7 347.2,688.7 348.2,688.3 349.2,688.3 350.2,688.8 351.3,688.3 352.3,689.0 353.3,688.6 354.3,689.2 355.4,689.0 356.4,689.1 357.4,689.5 358.4,688.9 359.4,689.0 360.4,689.6 361.5,689.5 362.5,689.5 363.5,689.2 364.5,689.6 365.5,689.5 366.6,689.8 367.6,689.7 368.6,690.5 369.6,690.5 370.6,690.7 371.7,690.7 372.7,690.7 373.7,689.9 374.8,689.0 375.8,688.7 376.8,687.8 378.1,688.0 379.3,688.8 381.7,686.6 383.4,688.8 384.4,689.1 385.4,689.3 386.5,689.6 387.5,689.9 388.7,690.0 389.9,690.5 391.2,691.2 392.4,691.6 393.5,691.5 394.6,692.2 395.6,692.2 396.7,692.5 397.8,692.7 398.9,693.2 400.0,693.3 401.1,693.3 402.2,693.3 403.3,693.4 404.3,693.7 405.4,694.0 406.5,693.8 407.6,693.7 408.7,694.0 409.8,694.0 410.9,694.0 412.0,694.3 413.1,694.6 414.2,694.5 415.3,694.3 416.4,694.5 417.5,694.6 418.6,694.8 419.6,694.8 420.7,694.9 421.7,695.4 422.7,695.1 423.8,695.3 424.8,695.4 425.9,695.4 426.9,695.6 427.9,695.4 429.0,695.6 430.0,695.6 431.0,695.9 432.1,695.4 433.1,695.7 434.1,695.6 435.2,695.4 436.2,695.4 437.3,695.9 438.3,695.5 439.3,695.9 440.4,695.5 441.4,695.8 442.4,695.7 443.4,695.5 444.5,695.9 445.5,696.1 446.5,695.8 447.5,696.0 448.5,696.3 449.5,695.9 450.6,696.1 451.6,696.3 452.6,696.4 453.6,695.9 454.6,696.3 455.7,696.0 456.7,696.0 457.7,696.3 458.7,696.7 459.8,696.0 460.8,696.7 461.8,696.6 462.8,696.6 463.9,696.6 464.9,696.6 465.9,696.4 466.9,696.5 467.9,696.4 469.0,696.9 470.0,696.9 471.0,696.9 472.1,696.5 473.1,696.8 474.1,696.8 475.1,696.6 476.2,697.0 477.2,697.0 478.2,697.2 479.2,697.0 480.2,697.0 481.3,697.1 482.3,696.7 483.3,697.0 484.4,696.7 485.4,696.9 486.4,696.8 487.4,697.4 488.4,696.7 489.5,697.4 490.5,697.1 491.5,697.4 492.5,697.1 493.5,697.4 494.5,696.8 495.5,696.9 496.5,696.8 497.5,696.9 498.5,696.9 499.5,697.5 500.5,696.9 501.6,697.3 502.6,697.1 503.6,697.0 504.6,697.2 505.6,697.1 506.6,697.7 507.6,697.3 508.6,697.4 509.6,697.4 510.6,697.5 511.6,697.4 512.6,697.4" fill="none" stroke="#0000ff" stroke-width="2.10" stroke-linejoin="round" stroke-linecap="round" clip-path="url(#clipE)"/>
<polyline points="56.2,685.3 56.2,688.9 58.3,688.6 59.4,688.6 60.5,689.6 61.6,689.9 62.7,690.2 63.8,690.6 64.9,690.2 66.1,690.7 67.2,690.6 68.3,690.2 69.5,690.1 70.6,690.0 71.8,689.5 72.9,689.0 74.0,689.2 75.2,689.2 76.3,688.4 77.5,688.6 78.7,688.9 79.8,688.2 81.0,688.2 82.1,688.0 83.2,689.0 84.4,688.4 85.6,688.8 86.7,689.0 87.8,688.8 89.0,688.3 90.2,688.7 91.3,689.0 93.3,682.5 94.7,655.0 95.4,652.5 96.1,661.9 97.5,682.5 98.8,690.8 100.2,690.8 100.8,684.0 101.6,683.5 103.0,689.4 105.0,692.2 107.8,694.9 109.2,695.6 110.5,696.3 111.9,695.5 113.3,695.6 114.6,690.8 116.0,694.9 118.1,697.7 120.0,697.9 121.1,698.3 122.2,697.6 123.3,697.7 124.7,696.6 126.0,696.3 127.1,685.3 127.7,673.5 128.2,685.3 128.8,694.9 130.2,695.9 131.5,696.3 132.5,695.5 133.6,696.1 134.6,695.2 135.6,694.9 137.0,694.6 138.4,694.2 139.8,693.7 141.1,693.5 142.5,694.5 143.9,695.6 144.9,695.6 145.9,695.8 147.0,697.1 148.0,697.0 150.0,698.2 152.1,699.0 153.1,698.8 154.2,699.5 155.2,699.0 156.3,700.0 157.3,699.6 158.3,700.4 159.4,700.5 160.4,700.6 161.4,701.0 162.4,700.9 163.5,701.2 164.5,701.1 165.7,700.2 166.8,700.0 168.0,699.5 169.3,699.4 170.5,698.3 171.8,698.2 173.0,699.5 174.3,700.2 175.5,700.6 176.7,700.7 177.8,700.8 179.0,701.1 180.2,701.4 181.4,701.7 182.6,702.7 183.8,702.5 184.9,702.9 186.0,703.0 187.1,704.0 189.8,696.3 191.2,690.0 192.2,688.0 193.3,689.4 195.3,699.0 196.5,703.3 198.8,703.0 200.9,703.2 202.0,703.2 203.2,704.3 204.3,704.5 206.1,693.5 206.7,680.9 207.5,693.5 209.6,705.5 210.8,706.2 212.0,705.8 213.1,705.9 214.3,706.1 215.5,706.2 216.5,706.6 217.6,706.1 218.6,706.6 219.6,706.7 220.6,706.8 221.7,706.4 222.7,706.9 223.7,706.5 224.8,706.7 225.8,707.4 226.8,706.7 227.9,707.0 228.9,706.9 230.9,700.6 232.2,703.2 234.2,700.6 236.2,688.8 237.5,673.0 238.8,665.1 239.7,667.8 240.5,683.5 241.4,694.0 242.3,688.8 243.4,636.3 244.0,621.8 244.7,629.7 245.3,673.0 246.3,695.3 247.3,704.5 248.6,701.9 249.7,662.5 250.6,626.4 251.3,649.4 251.9,659.9 252.6,662.5 253.2,683.5 254.1,701.9 255.9,708.0 257.0,708.4 258.0,708.8 259.1,709.8 260.2,709.4 261.3,710.3 262.4,710.4 263.5,710.1 264.6,710.5 265.7,710.4 266.8,710.7 268.0,711.0 269.1,711.2 270.3,710.7 271.4,710.9 272.4,711.5 273.4,711.5 274.5,711.1 275.5,711.4 276.5,711.0 277.5,711.0 278.5,710.8 279.5,711.6 280.6,710.8 281.6,710.7 282.6,711.6 283.6,711.6 284.6,711.3 285.7,711.7 286.7,710.9 287.7,711.4 288.7,711.2 289.7,711.2 290.8,711.4 291.8,711.1 292.8,711.0 293.8,711.3 294.8,712.0 295.9,712.1 296.9,711.8 297.9,711.6 298.9,711.3 299.9,712.1 300.9,711.7 302.0,711.9 303.0,711.2 304.0,711.7 305.0,711.4 306.0,712.1 307.0,712.0 308.0,712.1 309.0,711.8 310.0,711.6 311.0,711.8 312.0,712.1 313.0,711.5 314.0,711.7 315.0,711.7 316.5,709.5 317.7,708.3 319.0,710.5 320.0,711.7 321.0,711.5 322.0,712.0 323.0,711.2 324.0,712.0 325.0,712.3 326.0,711.8 327.0,711.3 328.0,712.0 329.0,712.1 330.0,712.3 331.0,712.1 332.0,711.7 333.0,711.9 334.0,712.6 335.0,712.6 336.0,711.8 337.0,711.7 338.0,711.8 339.0,711.7 340.0,712.3 341.0,712.3 342.0,712.0 343.0,712.8 344.0,712.6 345.0,712.1 346.0,712.6 347.0,712.4 348.0,712.6 349.0,712.6 350.0,712.3 351.0,712.3 352.0,712.4 353.0,712.6 354.0,713.0 355.0,712.8 356.0,712.9 357.1,712.4 358.1,713.2 359.1,713.4 360.2,713.3 361.2,713.4 362.2,712.6 363.3,713.1 364.3,712.7 365.4,713.5 366.4,712.9 367.4,713.5 368.5,713.1 369.5,713.4 371.2,712.8 371.7,706.2 372.1,706.2 372.4,712.9 373.7,713.3 375.0,713.2 376.1,712.8 377.1,712.3 378.2,712.6 379.4,711.0 380.6,712.8 381.7,712.9 382.8,712.9 383.9,713.8 385.0,713.5 386.1,713.4 387.1,713.7 388.2,713.8 389.3,714.3 390.4,713.5 391.4,714.1 392.5,714.1 393.6,714.4 394.7,714.8 395.7,714.1 396.8,714.4 397.9,714.7 399.0,714.5 400.1,714.6 401.2,714.2 402.2,715.0 403.3,715.3 404.4,714.7 405.5,714.7 406.6,715.5 407.7,715.0 408.7,714.6 409.8,714.6 410.8,714.6 411.8,715.4 412.8,715.4 413.9,715.0 414.9,715.3 415.9,714.6 416.9,715.3 417.9,715.1 419.0,715.2 420.0,715.2 421.0,715.1 422.0,715.1 423.0,715.0 424.0,714.8 425.0,715.2 426.0,715.0 427.0,715.6 428.0,715.7 429.0,715.6 430.0,715.4 431.0,715.1 432.0,715.3 433.0,715.4 434.0,715.6 435.0,715.5 436.0,716.0 437.0,715.1 438.0,715.5 439.0,715.5 440.0,715.8 441.0,716.0 442.0,715.9 443.0,715.7 444.0,715.9 445.0,715.8 446.0,716.0 447.0,715.6 447.2,703.4 449.0,702.6 450.4,701.2 452.6,700.2 452.8,715.7 453.8,715.9 454.9,715.9 455.9,715.4 456.9,716.2 457.9,715.6 459.0,715.8 460.0,715.7 461.0,716.1 462.1,716.2 463.1,716.3 464.1,715.2 465.2,715.5 466.2,715.6 467.2,715.7 468.3,715.4 469.3,715.9 470.3,715.3 471.4,715.6 472.4,716.3 473.4,716.1 474.5,715.8 475.5,715.4 476.5,716.4 477.6,716.1 478.6,715.9 479.6,715.6 480.7,715.7 481.7,716.1 482.7,716.1 483.7,715.7 484.8,716.4 485.8,715.7 486.8,715.7 487.8,716.3 488.9,715.6 489.9,716.2 490.9,715.6 491.9,716.1 492.9,715.7 494.0,715.9 495.0,716.0 496.0,716.5 497.1,716.0 498.1,716.0 499.1,716.2 500.1,715.8 501.2,715.7 502.2,716.0 503.2,715.8 504.3,715.8 505.3,716.6 506.3,715.6 507.4,716.5 508.4,716.6 509.4,716.4 510.4,715.6 511.5,716.2 512.5,716.2" fill="none" stroke="#000" stroke-width="1.90" stroke-linejoin="round" stroke-linecap="round" stroke-linejoin="round"/>
<polyline points="56.2,685.3 56.2,688.9 58.3,688.6 59.4,688.6 60.5,689.6 61.6,689.9 62.7,690.2 63.8,690.6 64.9,690.2 66.1,690.7 67.2,690.6 68.3,690.2 69.5,690.1 70.6,690.0 71.8,689.5 72.9,689.0 74.0,689.2 75.2,689.2 76.3,688.4 77.5,688.6 78.7,688.9 79.8,688.2 81.0,688.2 82.1,688.0 83.2,689.0 84.4,688.4 85.6,688.8 86.7,689.0 87.8,688.8 89.0,688.3 90.2,688.7 91.3,689.0" fill="none" stroke="#000" stroke-width="2.40" stroke-linejoin="round" stroke-linecap="round" stroke-linejoin="round"/>
<polyline points="98.8,690.8 100.2,690.8 100.8,684.0 101.6,683.5 103.0,689.4 105.0,692.2 107.8,694.9 109.2,695.6 110.5,696.3 111.9,695.5 113.3,695.6 114.6,690.8 116.0,694.9 118.1,697.7 120.0,697.9 121.1,698.3 122.2,697.6 123.3,697.7 124.7,696.6 126.0,696.3" fill="none" stroke="#000" stroke-width="2.40" stroke-linejoin="round" stroke-linecap="round" stroke-linejoin="round"/>
<polyline points="130.2,695.9 131.5,696.3 132.5,695.5 133.6,696.1 134.6,695.2 135.6,694.9 137.0,694.6 138.4,694.2 139.8,693.7 141.1,693.5 142.5,694.5 143.9,695.6 144.9,695.6 145.9,695.8 147.0,697.1 148.0,697.0 150.0,698.2 152.1,699.0 153.1,698.8 154.2,699.5 155.2,699.0 156.3,700.0 157.3,699.6 158.3,700.4 159.4,700.5 160.4,700.6 161.4,701.0 162.4,700.9 163.5,701.2 164.5,701.1 165.7,700.2 166.8,700.0 168.0,699.5 169.3,699.4 170.5,698.3 171.8,698.2 173.0,699.5 174.3,700.2 175.5,700.6 176.7,700.7 177.8,700.8 179.0,701.1 180.2,701.4 181.4,701.7 182.6,702.7 183.8,702.5 184.9,702.9 186.0,703.0 187.1,704.0" fill="none" stroke="#000" stroke-width="2.40" stroke-linejoin="round" stroke-linecap="round" stroke-linejoin="round"/>
<polyline points="196.5,703.3 198.8,703.0 200.9,703.2 202.0,703.2 203.2,704.3 204.3,704.5" fill="none" stroke="#000" stroke-width="2.40" stroke-linejoin="round" stroke-linecap="round" stroke-linejoin="round"/>
<polyline points="209.6,705.5 210.8,706.2 212.0,705.8 213.1,705.9 214.3,706.1 215.5,706.2 216.5,706.6 217.6,706.1 218.6,706.6 219.6,706.7 220.6,706.8 221.7,706.4 222.7,706.9 223.7,706.5 224.8,706.7 225.8,707.4 226.8,706.7 227.9,707.0 228.9,706.9 230.9,700.6 232.2,703.2 234.2,700.6" fill="none" stroke="#000" stroke-width="2.40" stroke-linejoin="round" stroke-linecap="round" stroke-linejoin="round"/>
<polyline points="255.9,708.0 257.0,708.4 258.0,708.8 259.1,709.8 260.2,709.4 261.3,710.3 262.4,710.4 263.5,710.1 264.6,710.5 265.7,710.4 266.8,710.7 268.0,711.0 269.1,711.2 270.3,710.7 271.4,710.9 272.4,711.5 273.4,711.5 274.5,711.1 275.5,711.4 276.5,711.0 277.5,711.0 278.5,710.8 279.5,711.6 280.6,710.8 281.6,710.7 282.6,711.6 283.6,711.6 284.6,711.3 285.7,711.7 286.7,710.9 287.7,711.4 288.7,711.2 289.7,711.2 290.8,711.4 291.8,711.1 292.8,711.0 293.8,711.3 294.8,712.0 295.9,712.1 296.9,711.8 297.9,711.6 298.9,711.3 299.9,712.1 300.9,711.7 302.0,711.9 303.0,711.2 304.0,711.7 305.0,711.4 306.0,712.1 307.0,712.0 308.0,712.1 309.0,711.8 310.0,711.6 311.0,711.8 312.0,712.1 313.0,711.5 314.0,711.7 315.0,711.7 316.5,709.5 317.7,708.3 319.0,710.5 320.0,711.7 321.0,711.5 322.0,712.0 323.0,711.2 324.0,712.0 325.0,712.3 326.0,711.8 327.0,711.3 328.0,712.0 329.0,712.1 330.0,712.3 331.0,712.1 332.0,711.7 333.0,711.9 334.0,712.6 335.0,712.6 336.0,711.8 337.0,711.7 338.0,711.8 339.0,711.7 340.0,712.3 341.0,712.3 342.0,712.0 343.0,712.8 344.0,712.6 345.0,712.1 346.0,712.6 347.0,712.4 348.0,712.6 349.0,712.6 350.0,712.3 351.0,712.3 352.0,712.4 353.0,712.6 354.0,713.0 355.0,712.8 356.0,712.9 357.1,712.4 358.1,713.2 359.1,713.4 360.2,713.3 361.2,713.4 362.2,712.6 363.3,713.1 364.3,712.7 365.4,713.5 366.4,712.9 367.4,713.5 368.5,713.1 369.5,713.4 371.2,712.8 371.7,706.2 372.1,706.2 372.4,712.9 373.7,713.3 375.0,713.2 376.1,712.8 377.1,712.3 378.2,712.6 379.4,711.0 380.6,712.8 381.7,712.9 382.8,712.9 383.9,713.8 385.0,713.5 386.1,713.4 387.1,713.7 388.2,713.8 389.3,714.3 390.4,713.5 391.4,714.1 392.5,714.1 393.6,714.4 394.7,714.8 395.7,714.1 396.8,714.4 397.9,714.7 399.0,714.5 400.1,714.6 401.2,714.2 402.2,715.0 403.3,715.3 404.4,714.7 405.5,714.7 406.6,715.5 407.7,715.0 408.7,714.6 409.8,714.6 410.8,714.6 411.8,715.4 412.8,715.4 413.9,715.0 414.9,715.3 415.9,714.6 416.9,715.3 417.9,715.1 419.0,715.2 420.0,715.2 421.0,715.1 422.0,715.1 423.0,715.0 424.0,714.8 425.0,715.2 426.0,715.0 427.0,715.6 428.0,715.7 429.0,715.6 430.0,715.4 431.0,715.1 432.0,715.3 433.0,715.4 434.0,715.6 435.0,715.5 436.0,716.0 437.0,715.1 438.0,715.5 439.0,715.5 440.0,715.8 441.0,716.0 442.0,715.9 443.0,715.7 444.0,715.9 445.0,715.8 446.0,716.0 447.0,715.6 447.2,703.4 449.0,702.6 450.4,701.2 452.6,700.2 452.8,715.7 453.8,715.9 454.9,715.9 455.9,715.4 456.9,716.2 457.9,715.6 459.0,715.8 460.0,715.7 461.0,716.1 462.1,716.2 463.1,716.3 464.1,715.2 465.2,715.5 466.2,715.6 467.2,715.7 468.3,715.4 469.3,715.9 470.3,715.3 471.4,715.6 472.4,716.3 473.4,716.1 474.5,715.8 475.5,715.4 476.5,716.4 477.6,716.1 478.6,715.9 479.6,715.6 480.7,715.7 481.7,716.1 482.7,716.1 483.7,715.7 484.8,716.4 485.8,715.7 486.8,715.7 487.8,716.3 488.9,715.6 489.9,716.2 490.9,715.6 491.9,716.1 492.9,715.7 494.0,715.9 495.0,716.0 496.0,716.5 497.1,716.0 498.1,716.0 499.1,716.2 500.1,715.8 501.2,715.7 502.2,716.0 503.2,715.8 504.3,715.8 505.3,716.6 506.3,715.6 507.4,716.5 508.4,716.6 509.4,716.4 510.4,715.6 511.5,716.2 512.5,716.2" fill="none" stroke="#000" stroke-width="2.40" stroke-linejoin="round" stroke-linecap="round" stroke-linejoin="round"/>
<polyline points="56.2,690.2 58.3,689.9 59.4,690.9 60.5,690.2 61.6,690.4 62.7,692.2 63.8,691.9 64.9,691.4 66.1,691.2 67.2,691.8 68.3,691.3 69.5,691.9 70.6,691.3 71.8,690.7 72.9,691.5 74.0,690.3 75.2,690.5 76.3,690.7 77.5,689.9 78.7,690.1 79.8,690.4 81.0,690.1 82.1,689.1 83.2,690.3 84.4,689.7 85.6,689.9 86.7,689.6 87.8,689.6 89.0,690.6 90.2,690.3 91.3,690.3" fill="none" stroke="#000" stroke-width="2.00" stroke-linejoin="round" stroke-linecap="round" />
<polyline points="105.0,693.1 107.8,695.8 109.2,697.0 110.5,697.2 111.9,697.4 113.3,696.5 114.6,691.7 116.0,695.8 118.1,698.6 120.0,698.8" fill="none" stroke="#000" stroke-width="1.80" stroke-linejoin="round" stroke-linecap="round" />
<line x1="157.6" y1="548.3" x2="157.6" y2="699.8" stroke="#000" stroke-width="1.60" />
<line x1="184.9" y1="690.9" x2="184.9" y2="703.0" stroke="#000" stroke-width="1.60" />
<line x1="199.5" y1="692.4" x2="199.5" y2="703.2" stroke="#000" stroke-width="1.60" />
<line x1="267.8" y1="674.3" x2="267.8" y2="710.5" stroke="#000" stroke-width="1.60" />
<line x1="351.0" y1="697.2" x2="351.0" y2="712.7" stroke="#000" stroke-width="1.60" />
<line x1="354.6" y1="660.5" x2="354.6" y2="712.8" stroke="#000" stroke-width="1.60" />
<line x1="361.4" y1="708.6" x2="361.4" y2="713.1" stroke="#000" stroke-width="1.60" />
<line x1="393.5" y1="709.2" x2="393.5" y2="714.2" stroke="#000" stroke-width="1.60" />
<line x1="403.9" y1="707.5" x2="403.9" y2="714.8" stroke="#000" stroke-width="1.60" />
<line x1="428.5" y1="638.2" x2="428.5" y2="715.3" stroke="#000" stroke-width="1.60" />
<line x1="441.6" y1="710.4" x2="441.6" y2="715.5" stroke="#000" stroke-width="1.60" />
<line x1="451.3" y1="655.9" x2="451.3" y2="715.7" stroke="#000" stroke-width="1.60" />
<line x1="464.9" y1="706.0" x2="464.9" y2="715.8" stroke="#000" stroke-width="1.60" />
<line x1="477.9" y1="705.3" x2="477.9" y2="715.9" stroke="#000" stroke-width="1.60" />
<line x1="480.8" y1="712.5" x2="480.8" y2="715.9" stroke="#000" stroke-width="1.60" />
<line x1="483.9" y1="697.9" x2="483.9" y2="716.0" stroke="#000" stroke-width="1.60" />
<line x1="486.4" y1="679.9" x2="486.4" y2="716.0" stroke="#000" stroke-width="1.60" />
<line x1="504.8" y1="714.0" x2="504.8" y2="716.1" stroke="#000" stroke-width="1.60" />
<line x1="45.3" y1="386.4" x2="45.3" y2="731.6" stroke="#000" stroke-width="1.30" />
<line x1="44.7" y1="731.0" x2="513.1" y2="731.0" stroke="#000" stroke-width="1.30" />
<line x1="45.3" y1="731.0" x2="45.3" y2="737.5" stroke="#000" stroke-width="1.30" />
<line x1="57.0" y1="731.0" x2="57.0" y2="734.6" stroke="#000" stroke-width="1.10" />
<line x1="68.7" y1="731.0" x2="68.7" y2="734.6" stroke="#000" stroke-width="1.10" />
<line x1="80.3" y1="731.0" x2="80.3" y2="734.6" stroke="#000" stroke-width="1.10" />
<line x1="92.0" y1="731.0" x2="92.0" y2="734.6" stroke="#000" stroke-width="1.10" />
<line x1="103.7" y1="731.0" x2="103.7" y2="734.6" stroke="#000" stroke-width="1.10" />
<line x1="115.4" y1="731.0" x2="115.4" y2="734.6" stroke="#000" stroke-width="1.10" />
<line x1="127.1" y1="731.0" x2="127.1" y2="734.6" stroke="#000" stroke-width="1.10" />
<line x1="138.7" y1="731.0" x2="138.7" y2="734.6" stroke="#000" stroke-width="1.10" />
<line x1="150.4" y1="731.0" x2="150.4" y2="734.6" stroke="#000" stroke-width="1.10" />
<line x1="162.1" y1="731.0" x2="162.1" y2="737.5" stroke="#000" stroke-width="1.30" />
<line x1="173.8" y1="731.0" x2="173.8" y2="734.6" stroke="#000" stroke-width="1.10" />
<line x1="185.5" y1="731.0" x2="185.5" y2="734.6" stroke="#000" stroke-width="1.10" />
<line x1="197.1" y1="731.0" x2="197.1" y2="734.6" stroke="#000" stroke-width="1.10" />
<line x1="208.8" y1="731.0" x2="208.8" y2="734.6" stroke="#000" stroke-width="1.10" />
<line x1="220.5" y1="731.0" x2="220.5" y2="734.6" stroke="#000" stroke-width="1.10" />
<line x1="232.2" y1="731.0" x2="232.2" y2="734.6" stroke="#000" stroke-width="1.10" />
<line x1="243.9" y1="731.0" x2="243.9" y2="734.6" stroke="#000" stroke-width="1.10" />
<line x1="255.5" y1="731.0" x2="255.5" y2="734.6" stroke="#000" stroke-width="1.10" />
<line x1="267.2" y1="731.0" x2="267.2" y2="734.6" stroke="#000" stroke-width="1.10" />
<line x1="278.9" y1="731.0" x2="278.9" y2="737.5" stroke="#000" stroke-width="1.30" />
<line x1="290.6" y1="731.0" x2="290.6" y2="734.6" stroke="#000" stroke-width="1.10" />
<line x1="302.3" y1="731.0" x2="302.3" y2="734.6" stroke="#000" stroke-width="1.10" />
<line x1="313.9" y1="731.0" x2="313.9" y2="734.6" stroke="#000" stroke-width="1.10" />
<line x1="325.6" y1="731.0" x2="325.6" y2="734.6" stroke="#000" stroke-width="1.10" />
<line x1="337.3" y1="731.0" x2="337.3" y2="734.6" stroke="#000" stroke-width="1.10" />
<line x1="349.0" y1="731.0" x2="349.0" y2="734.6" stroke="#000" stroke-width="1.10" />
<line x1="360.7" y1="731.0" x2="360.7" y2="734.6" stroke="#000" stroke-width="1.10" />
<line x1="372.3" y1="731.0" x2="372.3" y2="734.6" stroke="#000" stroke-width="1.10" />
<line x1="384.0" y1="731.0" x2="384.0" y2="734.6" stroke="#000" stroke-width="1.10" />
<line x1="395.7" y1="731.0" x2="395.7" y2="737.5" stroke="#000" stroke-width="1.30" />
<line x1="407.4" y1="731.0" x2="407.4" y2="734.6" stroke="#000" stroke-width="1.10" />
<line x1="419.1" y1="731.0" x2="419.1" y2="734.6" stroke="#000" stroke-width="1.10" />
<line x1="430.7" y1="731.0" x2="430.7" y2="734.6" stroke="#000" stroke-width="1.10" />
<line x1="442.4" y1="731.0" x2="442.4" y2="734.6" stroke="#000" stroke-width="1.10" />
<line x1="454.1" y1="731.0" x2="454.1" y2="734.6" stroke="#000" stroke-width="1.10" />
<line x1="465.8" y1="731.0" x2="465.8" y2="734.6" stroke="#000" stroke-width="1.10" />
<line x1="477.5" y1="731.0" x2="477.5" y2="734.6" stroke="#000" stroke-width="1.10" />
<line x1="489.1" y1="731.0" x2="489.1" y2="734.6" stroke="#000" stroke-width="1.10" />
<line x1="500.8" y1="731.0" x2="500.8" y2="734.6" stroke="#000" stroke-width="1.10" />
<line x1="512.5" y1="731.0" x2="512.5" y2="737.5" stroke="#000" stroke-width="1.30" />
<text x="45.3" y="756.3" font-size="16.00" text-anchor="middle" font-weight="normal" fill="#111" >0</text>
<text x="162.1" y="756.3" font-size="16.00" text-anchor="middle" font-weight="normal" fill="#111" >1000</text>
<text x="278.9" y="756.3" font-size="16.00" text-anchor="middle" font-weight="normal" fill="#111" >2000</text>
<text x="395.7" y="756.3" font-size="16.00" text-anchor="middle" font-weight="normal" fill="#111" >3000</text>
<text x="512.5" y="756.3" font-size="16.00" text-anchor="middle" font-weight="normal" fill="#111" >4000</text>
<line x1="38.0" y1="714.4" x2="45.3" y2="714.4" stroke="#000" stroke-width="1.30" />
<text x="0" y="0" font-size="19.6" text-anchor="middle" fill="#111" transform="translate(23.6,545.8) rotate(-90)" textLength="239.5" lengthAdjust="spacingAndGlyphs">Normalized intensity (A.U.)</text>
<text x="195.4" y="789.9" font-size="19.3" fill="#111">Raman shift (cm</text>
<line x1="336.4" y1="780.8" x2="341.9" y2="780.8" stroke="#111" stroke-width="1.20" />
<text x="342.6" y="784.9" font-size="12.30" text-anchor="start" font-weight="normal" fill="#111" >1</text>
<text x="350.0" y="789.9" font-size="19.30" text-anchor="start" font-weight="normal" fill="#111" >)</text>
<text x="148.5" y="522.4" font-size="13.3" fill="#111">Ag</text>
<text x="148.8" y="538.7" font-size="13.3" fill="#111">BG</text>
<text x="71.8" y="575.7" font-size="13.3" fill="#111">TiO<tspan font-size="8.8" dy="3.2">2</tspan><tspan dy="-3.2"></tspan></text>
<text x="71.8" y="591.6" font-size="13.3" fill="#111">ZrO<tspan font-size="8.8" dy="3.2">2</tspan><tspan dy="-3.2"></tspan></text>
<text x="71.8" y="608.2" font-size="13.3" fill="#111">ZnO</text>
<text x="117.9" y="611.7" font-size="13.3" fill="#111">ZrO<tspan font-size="8.8" dy="3.2">2</tspan><tspan dy="-3.2"></tspan></text>
<text x="117.9" y="627.0" font-size="13.3" fill="#111">Chi</text>
<text x="117.9" y="642.8" font-size="13.3" fill="#111">ZnO</text>
<text x="167.0" y="652.3" font-size="13.3" fill="#111">ZnO</text>
<text x="189.6" y="639.3" font-size="13.3" fill="#111">GO</text>
<text x="220.4" y="650.4" font-size="13.3" fill="#111">GO</text>
<text x="371.8" y="663.8" font-size="13.3" fill="#111">GO</text>
<rect x="267.6" y="394.8" width="275.2" height="62" fill="#fff" stroke="#666" stroke-width="1.1"/>
<line x1="277.0" y1="406.2" x2="315.0" y2="406.2" stroke="#000" stroke-width="2.00" />
<text x="319.3" y="412.0" font-size="17.30" text-anchor="start" font-weight="normal" fill="#111" >S1 - TiZrTaAg</text>
<line x1="277.0" y1="426.8" x2="315.0" y2="426.8" stroke="#ff0000" stroke-width="2.00" />
<text x="319.3" y="432.6" font-size="17.30" text-anchor="start" font-weight="normal" fill="#111" >S2 - TiZrTaAg+Chi+BG+ZnO</text>
<line x1="277.0" y1="447.6" x2="315.0" y2="447.6" stroke="#0000ff" stroke-width="2.00" />
<text x="319.3" y="453.4" font-size="17.30" text-anchor="start" font-weight="normal" fill="#111" >S3 - TiZrTaAg+Chi+BG+GO</text>
<text x="509.0" y="481.8" font-size="17.20" text-anchor="start" font-weight="normal" fill="#111" >(e)</text>
</svg>
</body></html>
